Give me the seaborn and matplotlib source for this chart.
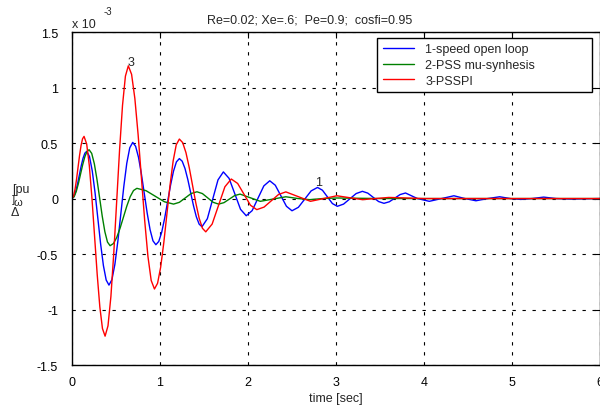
import numpy as np
import pandas as pd
import matplotlib
matplotlib.use('Agg')
import matplotlib.pyplot as plt
import seaborn as sns

# values, speed deviation in units of 1e-3 pu
t_open = [0, 0.0209, 0.0418, 0.0626, 0.0835, 0.1044, 0.1253, 0.1461, 0.167,
          0.1986, 0.2303, 0.2619, 0.2935, 0.3251, 0.3568, 0.3884, 0.42,
          0.4538, 0.4875, 0.5213, 0.555, 0.5888, 0.6225, 0.6563, 0.69,
          0.7229, 0.7558, 0.7886, 0.8215, 0.8544, 0.8873, 0.9201, 0.953,
          0.9864, 1.0198, 1.0531, 1.0865, 1.1199, 1.1533, 1.1866, 1.22,
          1.2521, 1.2843, 1.3164, 1.3485, 1.3806, 1.4128, 1.4449, 1.477,
          1.538, 1.5985, 1.659, 1.72, 1.785, 1.85, 1.915, 1.98, 2.047, 2.1135, 2.18,
          2.247, 2.31, 2.3735, 2.437, 2.50, 2.5725, 2.645, 2.7175, 2.79, 2.846, 2.9025, 2.959,
          3.015, 3.086, 3.1575, 3.229, 3.30, 3.361, 3.4225, 3.484, 3.545, 3.606, 3.6675, 3.729,
          3.79, 3.925, 4.06, 4.2, 4.34, 4.465, 4.59, 4.725, 4.86, 4.98, 5.10, 5.23, 5.36, 5.5,
          5.67, 6.0]
w_open = [0, 0.0162, 0.0622, 0.1312, 0.2125, 0.2938, 0.3628, 0.4088, 0.425,
          0.3791, 0.2486, 0.053, -0.1775, -0.408, -0.6036, -0.7341, -0.78,
          -0.731, -0.5917, -0.383, -0.137, 0.109, 0.3177, 0.457, 0.506,
          0.4709, 0.371, 0.2214, 0.045, -0.1314, -0.281, -0.3809, -0.416,
          -0.3864, -0.3024, -0.1764, -0.028, 0.1204, 0.2464, 0.3304, 0.36,
          0.3366, 0.2701, 0.1705, 0.053, -0.0645, -0.1641, -0.2306, -0.254,
          -0.182, -0.007, 0.168, 0.24, 0.182, 0.043, -0.097, -0.155, -0.109, 0.003, 0.114,
          0.16, 0.12, 0.025, -0.07, -0.11, -0.079, -0.005, 0.069, 0.10, 0.075, 0.015, -0.045,
          -0.07, -0.05, -0.0025, 0.045, 0.065, 0.049, 0.011, -0.027, -0.043, -0.029, 0.0035, 0.036,
          0.05, 0.0, -0.025, 0.0, 0.025, 0.0, -0.02, 0.0, 0.016, 0.0, -0.008, 0.0, 0.013, 0.0,
          -0.005, 0.0]

t_mu = [0, 0.0243, 0.0485, 0.0728, 0.097, 0.1213, 0.1455, 0.1698, 0.194,
        0.2239, 0.2538, 0.2836, 0.3135, 0.3434, 0.3733, 0.4031, 0.433,
        0.471, 0.509, 0.547, 0.585, 0.623, 0.661, 0.699, 0.737,
        0.841, 0.9455, 1.05, 1.154, 1.22, 1.287, 1.353, 1.42, 1.4815, 1.543, 1.6045,
        1.666, 1.727, 1.788, 1.849, 1.91, 2.025, 2.14, 2.285, 2.43, 2.57, 2.7, 2.85, 3.0, 3.5, 6.0]
w_mu = [0, 0.0168, 0.0644, 0.1358, 0.22, 0.3042, 0.3756, 0.4232, 0.44,
        0.407, 0.3134, 0.173, 0.0075, -0.158, -0.2984, -0.392, -0.425,
        -0.4053, -0.3493, -0.2654, -0.1665, -0.0676, 0.0163, 0.0723, 0.092,
        0.071, 0.021, -0.029, -0.05, -0.034, 0.0055, 0.045, 0.061, 0.045, 0.0055, -0.034,
        -0.05, -0.037, -0.005, 0.027, 0.04, 0.0075, -0.025, -0.0045, 0.016, 0.0, -0.01, 0.0, 0.005, 0.0, 0.0]

t_pi = [0, 0.0171, 0.0343, 0.0514, 0.0685, 0.0856, 0.1028, 0.1199, 0.137,
        0.1669, 0.1968, 0.2266, 0.2565, 0.2864, 0.3163, 0.3461, 0.376,
        0.409, 0.442, 0.475, 0.508, 0.541, 0.574, 0.607, 0.64,
        0.6771, 0.7143, 0.7514, 0.7885, 0.8256, 0.8628, 0.8999, 0.937,
        0.9724, 1.0078, 1.0431, 1.0785, 1.1139, 1.1493, 1.1846, 1.22,
        1.2575, 1.295, 1.3325, 1.37, 1.4075, 1.445, 1.4825, 1.52,
        1.5925, 1.665, 1.7375, 1.81, 1.8825, 1.955, 2.0275, 2.10, 2.1825, 2.265, 2.3475,
        2.43, 2.71, 3.01, 3.3, 3.6, 4.0, 6.0]
w_pi = [0, 0.0213, 0.082, 0.1729, 0.28, 0.3871, 0.478, 0.5387, 0.56,
        0.4914, 0.2965, 0.0043, -0.34, -0.6843, -0.9765, -1.1714, -1.24,
        -1.1472, -0.8834, -0.488, -0.022, 0.444, 0.8394, 1.1032, 1.196,
        1.1194, 0.9016, 0.5752, 0.1905, -0.1942, -0.5206, -0.7384, -0.815,
        -0.7635, -0.6172, -0.3979, -0.1395, 0.1189, 0.3382, 0.4845, 0.536,
        0.5042, 0.4136, 0.2779, 0.118, -0.0419, -0.1776, -0.2681, -0.30,
        -0.23, -0.062, 0.106, 0.176, 0.136, 0.038, -0.06, -0.10, -0.077, -0.02, 0.037,
        0.06, -0.025, 0.025, -0.01, 0.01, 0.0, 0.0]

labels = ['1-speed open loop', '2-PSS mu-synhesis', '3-PSSPI']
colors = ['#0000ff', '#008000', '#ff0000']

sns.set_style('white')
plt.rcParams['font.family'] = ['Liberation Sans', 'DejaVu Sans']
plt.rcParams['font.size'] = 9

fig = plt.figure(figsize=(6, 4.1), dpi=100)
ax = fig.add_axes([0.12, 0.1073, 0.88, 0.812])

for tt, ww, lab, col in zip([t_open, t_mu, t_pi], [w_open, w_mu, w_pi], labels, colors):
    sns.lineplot(x=tt, y=ww, ax=ax, color=col, label=lab, linewidth=1.0,
                 estimator=None, sort=False)

ax.set_xlim(0, 6)
ax.set_ylim(-1.5, 1.5)
ax.set_xticks([0, 1, 2, 3, 4, 5, 6])
ax.set_yticks([-1.5, -1, -0.5, 0, 0.5, 1, 1.5])
ax.set_yticklabels(['-1.5', '-1', '-0.5', '0', '0.5', '1', '1.5'])
ax.grid(True, color='black', linestyle=(0, (3, 6)), linewidth=0.8)
ax.tick_params(direction='in', length=4, width=0.8, top=True, right=True,
               labelsize=9, colors='black')
ax.tick_params(axis='y', pad=10)
ax.tick_params(axis='x', pad=8)
for s in ax.spines.values():
    s.set_color('black')
    s.set_linewidth(1.0)

ax.set_xlabel('time [sec]', fontsize=9, labelpad=3)
ax.set_ylabel('')
ax.set_title('Re=0.02; Xe=.6;  Pe=0.9;  cosfi=0.95', fontsize=9, pad=7, x=0.4508)

# curve markers as in the original
ax.text(0.672, 1.23, '3', ha='center', va='center', fontsize=9)
ax.text(2.80, 0.15, '1', ha='center', va='center', fontsize=9)

# exponent text and the squashed y label
fig.text(72 / 600, 1 - 25 / 410, 'x 10', ha='left', va='center', fontsize=9)
fig.text(104 / 600, 1 - 12 / 410, '-3', ha='left', va='center', fontsize=7)
fig.text(12 / 600, 1 - 190 / 410, '[pu', ha='left', va='center', fontsize=9)
fig.text(12 / 600, 1 - 200 / 410, ']', ha='left', va='center', fontsize=8)
fig.text(13 / 600, 1 - 203 / 410, 'ω', ha='left', va='center', fontsize=8)
fig.text(11 / 600, 1 - 213 / 410, 'Δ', ha='left', va='center', fontsize=9)

leg = ax.legend(loc='upper left', bbox_to_anchor=(0.5777, 0.8305, 0.4072, 0.153),
                mode='expand', borderaxespad=0,
                fancybox=False, edgecolor='black', framealpha=1, fontsize=9,
                handlelength=2.5, handletextpad=0.9, labelspacing=0.3, borderpad=0.45)
leg.get_frame().set_linewidth(1.0)

fig.savefig('out.png', dpi=100)
